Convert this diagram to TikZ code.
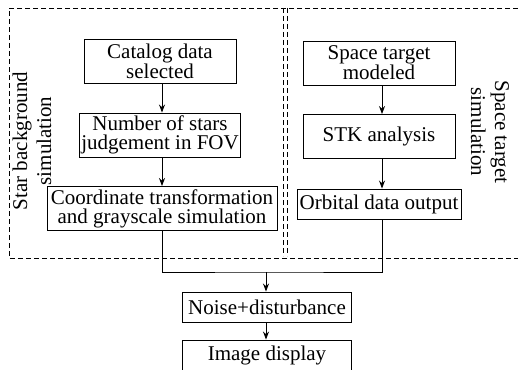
\documentclass[tikz,border=0pt]{standalone}
\usepackage{fontspec}
\setmainfont{Liberation Serif}
\usetikzlibrary{arrows.meta, positioning}

\tikzset{
    stepbox/.style={draw, line width=0.9pt, align=center, inner sep=2pt,
        font=\fontsize{21}{19}\selectfont},
    grouplabel/.style={align=center, font=\fontsize{21}{24}\selectfont},
    frame/.style={dashed, dash pattern=on 5pt off 3pt, line width=0.8pt},
    flow/.style={line width=0.9pt, -{Stealth[length=8pt,width=6pt]}}
}

\begin{document}
\begin{tikzpicture}[x=1pt, y=-1pt]
    \useasboundingbox (0,0) rectangle (518,369);

    % dashed group frames
    \draw[frame] (518,8) -- (9,8) -- (9,258) -- (518,258);
    \draw[frame] (283,8) -- (283,256);
    \draw[frame] (287,8) -- (287,256);

    \node[grouplabel, rotate=90] (starlbl) at (32,141) {Star background\\simulation};
    \node[grouplabel, rotate=-90] (spclbl) at (490,132) {Space target\\simulation};

    % star background branch
    \node[stepbox, minimum width=152pt, minimum height=44pt] (cat) at (160,61)
        {Catalog data\\selected};
    \node[stepbox, minimum width=152pt, minimum height=44pt] (num) at (160,135)
        {Number of stars\\judgement in FOV};
    \node[stepbox, minimum width=230pt, minimum height=44pt] (coord) at (162,208.5)
        {Coordinate transformation\\and grayscale simulation};

    % space target branch
    \node[stepbox, minimum width=152pt, minimum height=44pt] (spc) at (379,63)
        {Space target\\modeled};
    \node[stepbox, minimum width=152pt, minimum height=44pt] (stk) at (379,136.5)
        {STK analysis};
    \node[stepbox, minimum width=164pt, minimum height=30pt] (orb) at (379,204)
        {Orbital data output};

    % merged output
    \node[stepbox, minimum width=169pt, minimum height=30pt] (noise) at (267,307)
        {Noise+disturbance};
    \node[stepbox, minimum width=169pt, minimum height=30pt] (img) at (267,355)
        {Image display};

    \draw[flow] (cat.south -| 162,0) -- (num.north -| 162,0);
    \draw[flow] (num.south -| 162,0) -- (coord.north -| 162,0);
    \draw[flow] (spc.south -| 382,0) -- (stk.north -| 382,0);
    \draw[flow] (stk.south -| 382,0) -- (orb.north -| 382,0);

    \coordinate (join) at (266,272);
    \draw[line width=0.9pt] (coord.south -| 162,0) |- (join)
        -| (orb.south -| 382,0);
    \draw[flow] (join) -- (noise.north -| join);
    \draw[flow] (noise.south -| join) -- (img.north -| join);
\end{tikzpicture}
\end{document}
